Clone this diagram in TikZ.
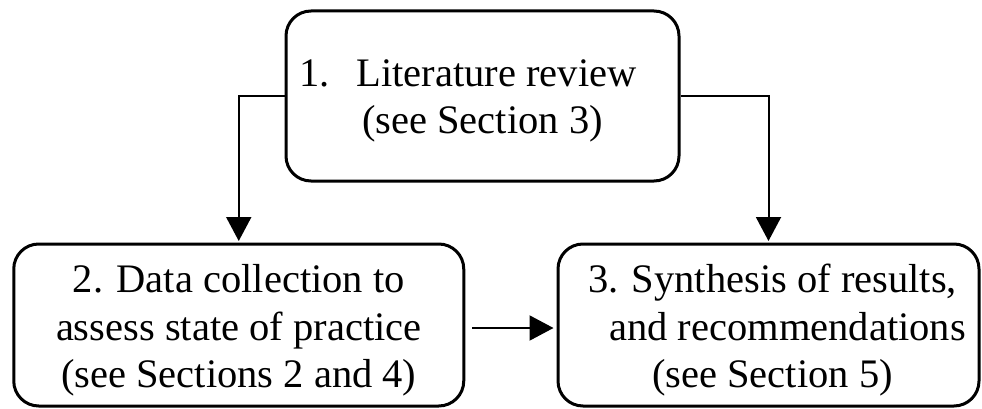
\documentclass[tikz,border=0pt]{standalone}
\usepackage{fontspec}
\setmainfont{Liberation Serif}
\usetikzlibrary{arrows.meta}
\begin{document}
\begin{tikzpicture}[x=1pt,y=-1pt,
  box/.style={draw, line width=3pt, rounded corners=25pt, inner sep=0pt},
  txt/.style={align=center, font=\fontsize{40.5}{47.5}\selectfont, inner sep=0pt},
  conn/.style={line width=2pt, -{Triangle[length=24pt,width=25pt]}}]
\useasboundingbox (0,0) rectangle (982,409);
\node[box, minimum width=393pt, minimum height=170pt] (lit) at (482.5,96) {};
\node[box, minimum width=450pt, minimum height=162pt] (dat) at (238.75,325) {};
\node[box, minimum width=421pt, minimum height=162pt] (syn) at (768.5,325) {};
\node[txt] (littext) at ([yshift=-5pt]lit.center) {1.\hspace{27pt}Literature review\hspace*{29pt}\\(see Section 3)};
\node[txt] (dattext) at ([yshift=-5.5pt]dat.center) {2. Data collection to\\assess state of practice\\(see Sections 2 and 4)};
\node[txt] (syntext) at ([xshift=4pt,yshift=-5.5pt]syn.center) {3. Synthesis of results,\\\hspace*{30pt}and recommendations\\(see Section 5)};
\draw[conn, shorten >=1.5pt] (lit.west) -| (dat.north);
\draw[conn, shorten >=1.5pt] (lit.east) -| (syn.north);
\draw[conn, shorten <=7pt, shorten >=3pt] ([yshift=-3pt]dat.east) -- ([yshift=-3pt]syn.west);
\end{tikzpicture}
\end{document}
